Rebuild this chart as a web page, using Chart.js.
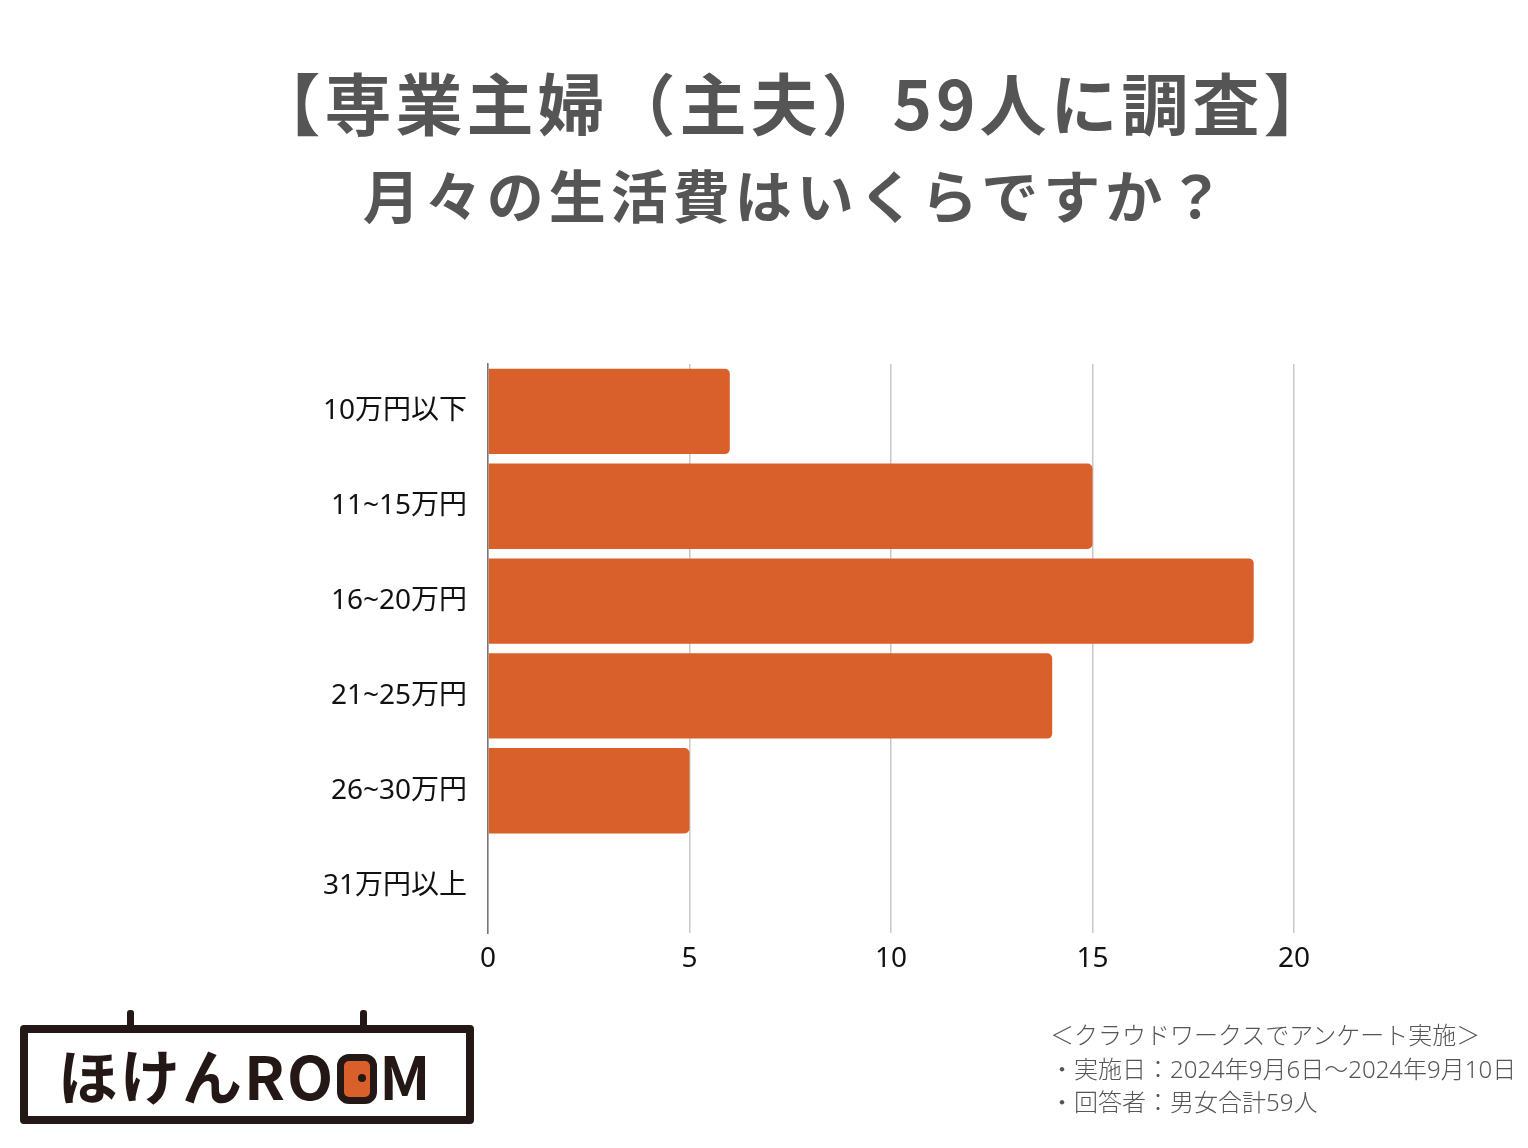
<!DOCTYPE html>
<html lang="ja">
<head>
<meta charset="utf-8">
<script src="https://cdn.jsdelivr.net/npm/chart.js@4/dist/chart.umd.min.js"></script>
<style>
  html, body { margin: 0; padding: 0; background: #fff; }
  body { width: 1528px; height: 1148px; position: relative; overflow: hidden; font-family: "Noto Sans CJK JP", "Noto Sans", sans-serif; }
  #chart { position: absolute; left: 0; top: 0; }
  .title { position: absolute; width: 1528px; text-align: center; color: #555; font-weight: 700; white-space: nowrap; }
  #t1 { left: 30px; top: 55px; font-size: 67px; line-height: 92px; letter-spacing: 4px; }
  #t2 { left: 32px; top: 154px; font-size: 57px; line-height: 78px; letter-spacing: 5px; }
  #note { position: absolute; left: 1050px; top: 1018px; font-size: 24px; line-height: 33.5px; color: #555; font-weight: 300; white-space: nowrap; font-family: "Noto Sans", "Noto Sans CJK JP", sans-serif; }
  #logo { position: absolute; left: 20px; top: 1025px; width: 438px; height: 83px; border: 8px solid #231815; border-radius: 4px; }
  .hook { position: absolute; top: 1010px; width: 7px; height: 20px; background: #231815; border-radius: 3px; }
  #logotext { position: absolute; left: 30px; top: 2px; font-size: 60px; line-height: 78px; font-weight: 700; color: #231815; white-space: nowrap; letter-spacing: 2px; }
  .oo { display: inline-block; width: 26px; height: 36px; border: 7px solid #231815; border-radius: 12px; background: #D95F2B; position: relative; vertical-align: -4px; margin: 0 2px; }
  .oo::after { content: ""; position: absolute; left: 14px; top: 13px; width: 8px; height: 8px; border-radius: 50%; background: #231815; }
</style>
</head>
<body>
<div class="title" id="t1">【専業主婦（主夫）59人に調査】</div>
<div class="title" id="t2">月々の生活費はいくらですか？</div>
<canvas id="chart" width="1528" height="1148"></canvas>
<div class="hook" style="left:127px"></div>
<div class="hook" style="left:360px"></div>
<div id="logo"><div id="logotext">ほけんRO<span class="oo"></span>M</div></div>
<div id="note">＜クラウドワークスでアンケート実施＞<br>・実施日：2024年9月6日〜2024年9月10日<br>・回答者：男女合計59人</div>
<script>
const categories = ["10万円以下", "11~15万円", "16~20万円", "21~25万円", "26~30万円", "31万円以上"];
const counts = [6, 15, 19, 14, 5, 0];
const xTicks = [0, 5, 10, 15, 20];

const tickFont = { family: "'Noto Sans', 'Noto Sans CJK JP', sans-serif", size: 28 };

new Chart(document.getElementById("chart"), {
  type: "bar",
  data: {
    labels: categories,
    datasets: [{
      data: counts,
      backgroundColor: "#D95F2B",
      borderRadius: 5,
      categoryPercentage: 1.0,
      barPercentage: 0.9
    }]
  },
  options: {
    indexAxis: "y",
    responsive: false,
    animation: false,
    layout: { padding: { top: 364, right: 234, bottom: 165, left: 0 } },
    plugins: { legend: { display: false }, tooltip: { enabled: false } },
    scales: {
      x: {
        min: 0, max: 20,
        afterBuildTicks: (s) => { s.ticks = xTicks.map(v => ({ value: v })); },
        afterFit: (s) => { s.height = 50; },
        grid: { color: "#c8c8c8", lineWidth: 1.5, drawTicks: false },
        border: { display: false },
        ticks: { color: "#111", padding: 9, font: tickFont }
      },
      y: {
        afterFit: (s) => { s.width = 488; },
        grid: { display: false },
        border: { display: true, color: "#777", width: 1.5 },
        ticks: { color: "#111", padding: 13, font: tickFont }
      }
    }
  }
});
</script>
</body>
</html>
